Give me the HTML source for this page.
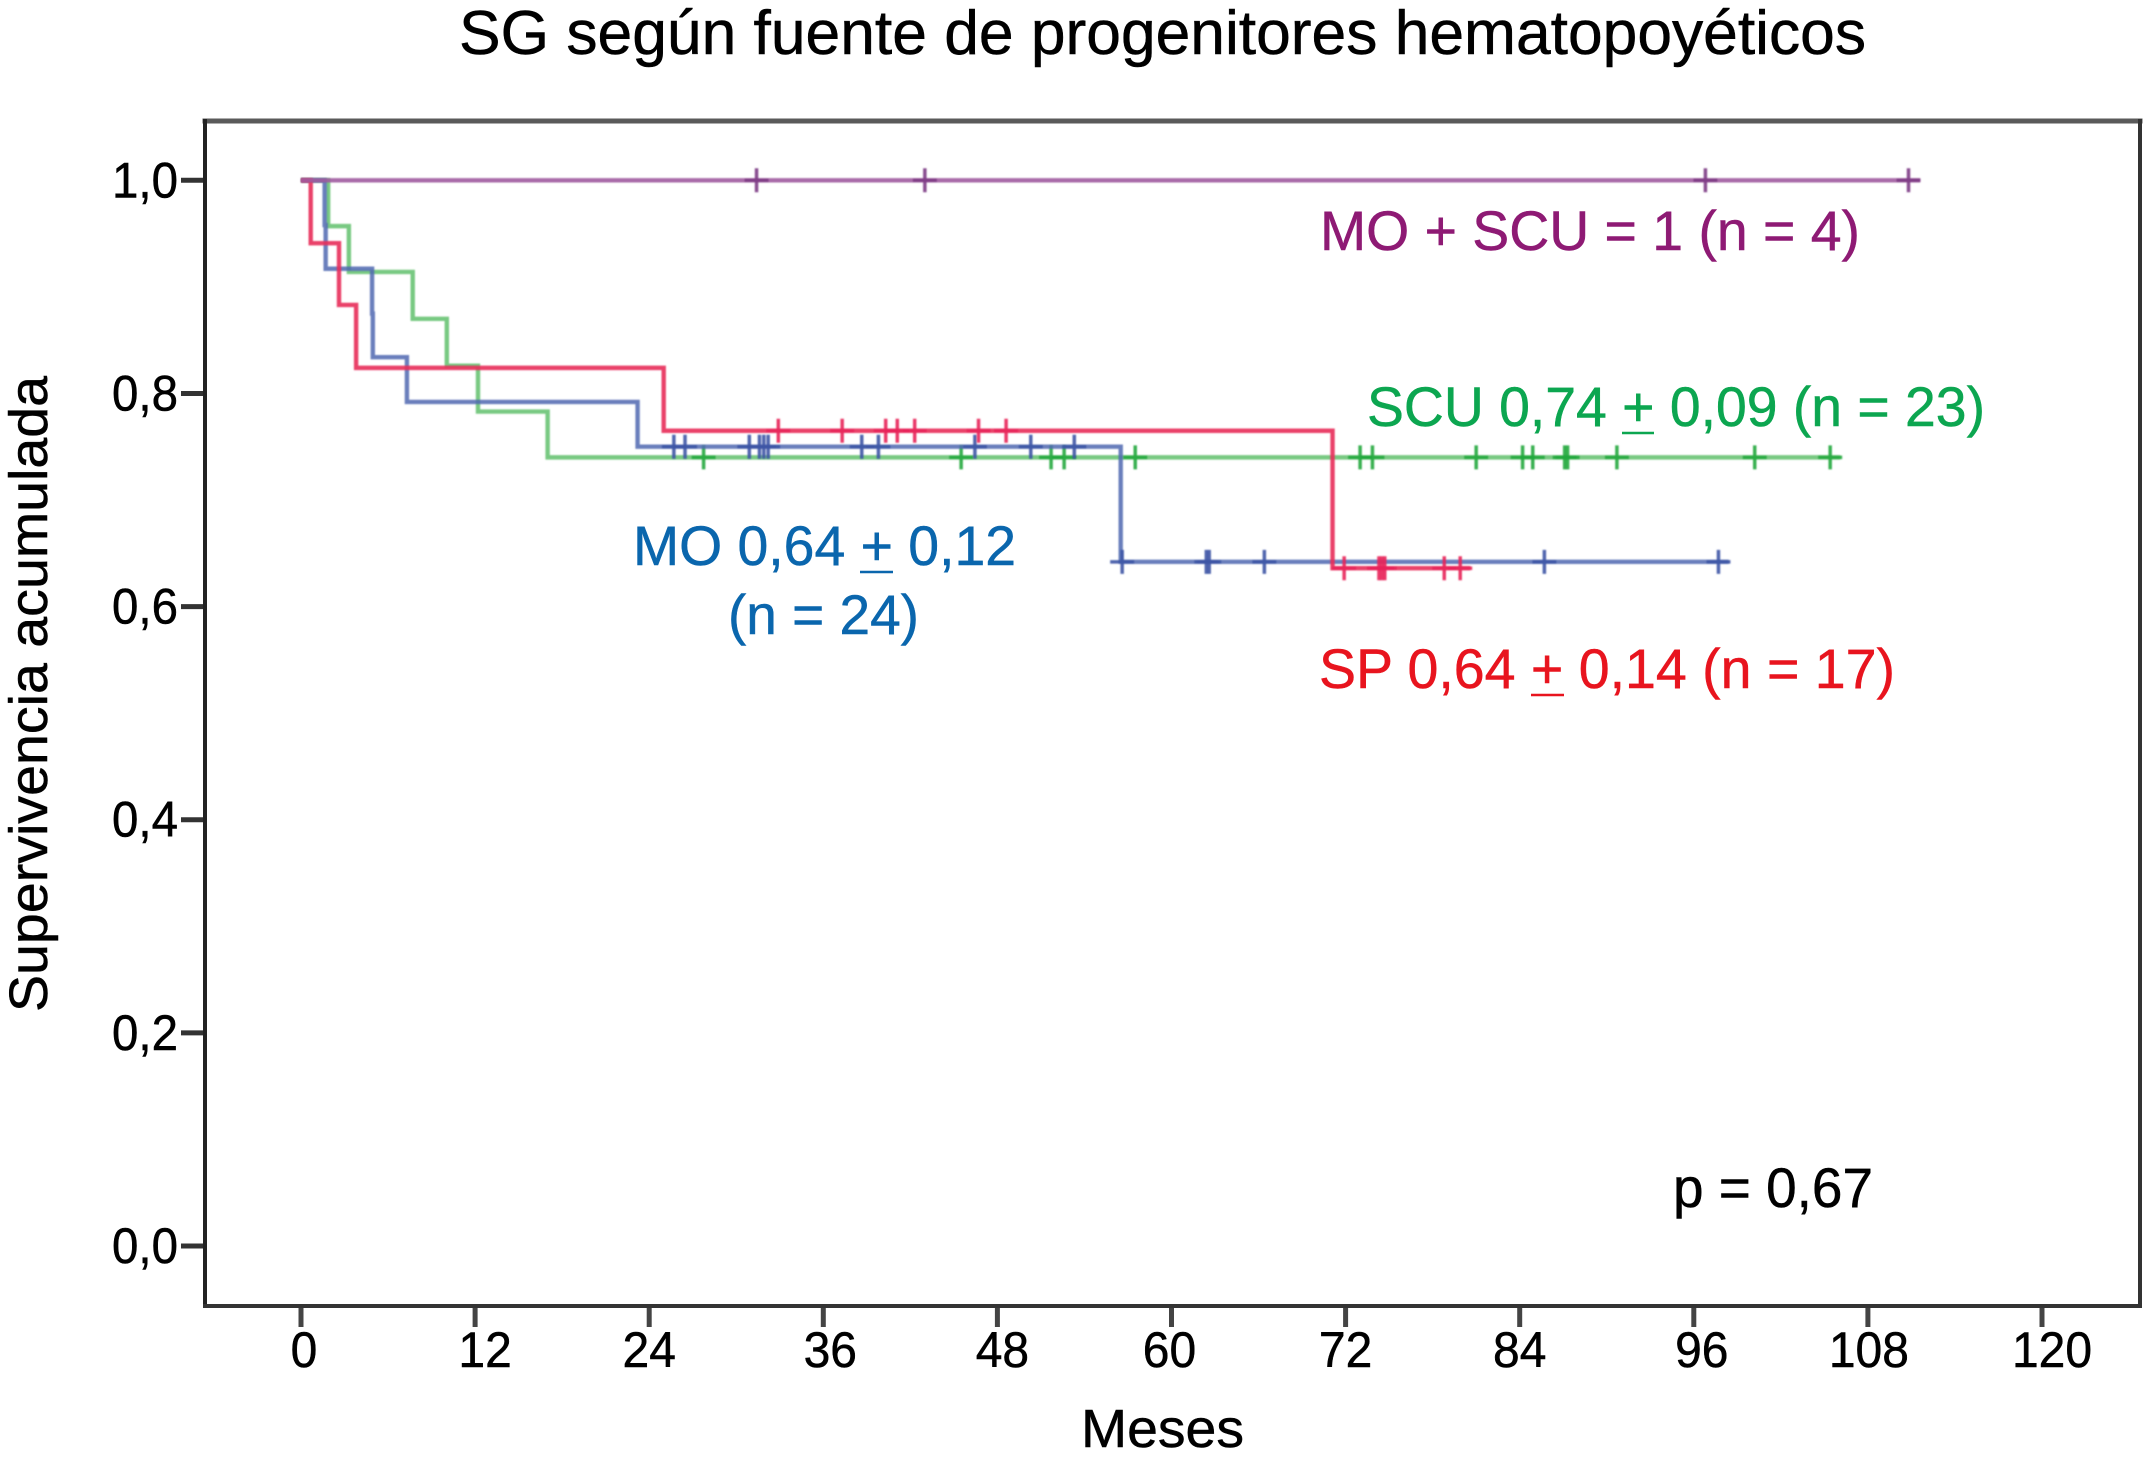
<!DOCTYPE html>
<html lang="es">
<head>
<meta charset="utf-8">
<title>SG según fuente de progenitores hematopoyéticos</title>
<style>
html,body{margin:0;padding:0;background:#fff;}
svg{display:block;}
text{font-family:"Liberation Sans",Arial,sans-serif;fill:currentColor;stroke:currentColor;stroke-width:.5px;}
</style>
</head>
<body>
<svg id="chart" xmlns="http://www.w3.org/2000/svg" width="2144" height="1461" viewBox="0 0 2144 1461">
  <defs>
    <filter id="soft" x="0" y="0" width="2144" height="1461" filterUnits="userSpaceOnUse"><feGaussianBlur stdDeviation="0.7"/></filter>
  </defs>
  <rect width="2144" height="1461" fill="#ffffff"/>
  <text x="459" y="54" font-size="62" textLength="1407" lengthAdjust="spacingAndGlyphs" color="#000">SG según fuente de progenitores hematopoyéticos</text>

  <g id="axes"></g>
  <g id="series"></g>

  <g fill="none" stroke-linecap="square">
    <line x1="205" y1="121" x2="2140" y2="121" stroke="#5a5a5a" stroke-width="5"/>
    <line x1="205" y1="121" x2="205" y2="1306" stroke="#222" stroke-width="4"/>
    <line x1="205" y1="1306" x2="2140" y2="1306" stroke="#333" stroke-width="4"/>
    <line x1="2140" y1="121" x2="2140" y2="1306" stroke="#333" stroke-width="4"/>
  </g>

  <text transform="translate(47,1012) rotate(-90)" font-size="54" textLength="636" lengthAdjust="spacingAndGlyphs" color="#000">Supervivencia acumulada</text>
  <text x="1081" y="1447" font-size="54" textLength="163" lengthAdjust="spacingAndGlyphs" color="#000">Meses</text>

  <text x="1320" y="250" font-size="56" textLength="540" lengthAdjust="spacingAndGlyphs" color="#8e1a74">MO + SCU = 1 (n = 4)</text>
  <text x="1367" y="426" font-size="56" textLength="618" lengthAdjust="spacingAndGlyphs" color="#0ca650">SCU 0,74 + 0,09 (n = 23)</text>
  <line x1="1622" y1="433" x2="1654" y2="433" stroke="#0ca650" stroke-width="2.5"/>
  <text x="633" y="565" font-size="56" textLength="383" lengthAdjust="spacingAndGlyphs" color="#0a66ad">MO 0,64 + 0,12</text>
  <line x1="860" y1="572" x2="893" y2="572" stroke="#0a66ad" stroke-width="2.5"/>
  <text x="728" y="634" font-size="56" textLength="191" lengthAdjust="spacingAndGlyphs" color="#0a66ad">(n = 24)</text>
  <text x="1319" y="688" font-size="56" textLength="576" lengthAdjust="spacingAndGlyphs" color="#e8141e">SP 0,64 + 0,14 (n = 17)</text>
  <line x1="1531" y1="695" x2="1564" y2="695" stroke="#e8141e" stroke-width="2.5"/>
  <text x="1673" y="1207" font-size="56" textLength="200" lengthAdjust="spacingAndGlyphs" color="#000">p = 0,67</text>
</svg>

<script>
// ---- tick labels ----
const xTickValues = [0, 12, 24, 36, 48, 60, 72, 84, 96, 108, 120];
const yTickValues = [1.0, 0.8, 0.6, 0.4, 0.2, 0.0];

// ---- MO (blue) ----
const moEventMonths = [1.63, 1.7, 4.9, 4.95, 7.3, 23.2, 56.5];
const moSurvival = [0.958, 0.917, 0.875, 0.834, 0.792, 0.75, 0.642];
const moCensorMonths = [25.7, 26.47, 30.9, 31.6, 31.9, 32.2, 38.65, 39.8, 46.45, 50.3, 53.3, 56.6, 62.4, 62.6, 66.4, 85.7, 97.7];
const moLastMonth = [98.4];

// ---- SCU (green) ----
const scuEventMonths = [1.87, 3.3, 7.7, 10.05, 12.2, 17.0];
const scuSurvival = [0.957, 0.914, 0.87, 0.826, 0.783, 0.74];
const scuCensorMonths = [27.75, 45.5, 51.7, 52.6, 57.5, 73.0, 73.85, 81.0, 84.2, 84.9, 87.1, 87.3, 90.7, 100.2, 105.4];
const scuLastMonth = [106.1];

// ---- SP (red) ----
const spEventMonths = [0.67, 2.62, 3.8, 25.0, 71.1];
const spSurvival = [0.941, 0.883, 0.824, 0.765, 0.636];
const spCensorMonths = [32.9, 37.3, 40.3, 41.1, 42.3, 46.7, 48.6, 71.9, 74.3, 74.5, 74.7, 78.8, 79.9];
const spLastMonth = [80.6];

// ---- MO + SCU (purple) ----
const comboEventMonths = [];
const comboSurvival = [];
const comboCensorMonths = [31.4, 43.0, 96.8, 110.8];
const comboLastMonth = [111.6];

const NS = 'http://www.w3.org/2000/svg';
function xScale(m) { return 301 + m * (2042 - 301) / 120; }
function yScale(v) { return 1246 - v * (1246 - 180.3); }

function make(tag, parent, attrs) {
  const el = document.createElementNS(NS, tag);
  for (const k in attrs) el.setAttribute(k, attrs[k]);
  parent.appendChild(el);
  return el;
}

function survivalAt(t, times, values) {
  let s = 1;
  for (let i = 0; i < times.length; i++) {
    if (times[i] <= t) s = values[i];
  }
  return s;
}

function drawAxes() {
  const g = document.getElementById('axes');
  // hand-set optical shifts of the x labels, as in the source figure
  const labelShift = { 0: 3, 12: 10, 24: 0, 36: 7, 48: 5, 60: -2, 72: 0, 84: 0, 96: 8, 108: 1, 120: 10 };
  yTickValues.forEach(function (v) {
    const py = yScale(v);
    const tick = make('line', g, { x1: 181, x2: 205, y1: py, y2: py, stroke: '#333', 'stroke-width': 5 });
    
    
    const label = make('text', g, { x: 112, y: py + 17, 'font-size': 50, color: '#000', textLength: 66, lengthAdjust: 'spacingAndGlyphs' });
    
    
    label.textContent = v.toFixed(1).replace('.', ',');
  });
  xTickValues.forEach(function (m) {
    const px = xScale(m);
    const tick = make('line', g, { x1: px, x2: px, y1: 1306, y2: 1327, stroke: '#444', 'stroke-width': 5 });
    
    
    const s = String(m);
    const w = s.length * 26.7;
    const label = make('text', g, { x: px + (labelShift[m] || 0) - w / 2, y: 1367, 'font-size': 50, color: '#000', textLength: w, lengthAdjust: 'spacingAndGlyphs' });
    
    
    label.textContent = s;
  });
}

function drawSeries(key, times, values, censors, last, lineColor, markColor, opacity) {
  const host = document.getElementById('series');
  const g = make('g', host, { filter: 'url(#soft)' });
  
  

  let d = 'M' + xScale(0) + ' ' + yScale(1);
  let cur = 1;
  times.forEach(function (t, i) {
    d += ' L' + xScale(t) + ' ' + yScale(cur);
    d += ' L' + xScale(t) + ' ' + yScale(values[i]);
    cur = values[i];
  });
  d += ' L' + xScale(last[0]) + ' ' + yScale(cur);

  const curve = make('path', g, { d: d, fill: 'none', stroke: lineColor, 'stroke-width': 4.4, 'stroke-opacity': opacity });
  
  

  censors.forEach(function (t) {
    const px = xScale(t);
    const py = yScale(survivalAt(t, times, values));
    const mark = make('path', g, {
      d: 'M' + (px - 12) + ' ' + py + ' H' + (px + 12) + ' M' + px + ' ' + (py - 12) + ' V' + (py + 12),
      fill: 'none', stroke: markColor, 'stroke-width': 3.5, 'stroke-opacity': 0.9
    });
    
    
  });
}

drawAxes();
drawSeries('scu', scuEventMonths, scuSurvival, scuCensorMonths, scuLastMonth, '#55bb62', '#22a83e', 0.8);
drawSeries('mo', moEventMonths, moSurvival, moCensorMonths, moLastMonth, '#5068b0', '#3d55a5', 0.85);
drawSeries('sp', spEventMonths, spSurvival, spCensorMonths, spLastMonth, '#e82c5a', '#e8255a', 0.9);
drawSeries('mo-scu', comboEventMonths, comboSurvival, comboCensorMonths, comboLastMonth, '#a05ba0', '#7d3a85', 0.9);
</script>
</body>
</html>
